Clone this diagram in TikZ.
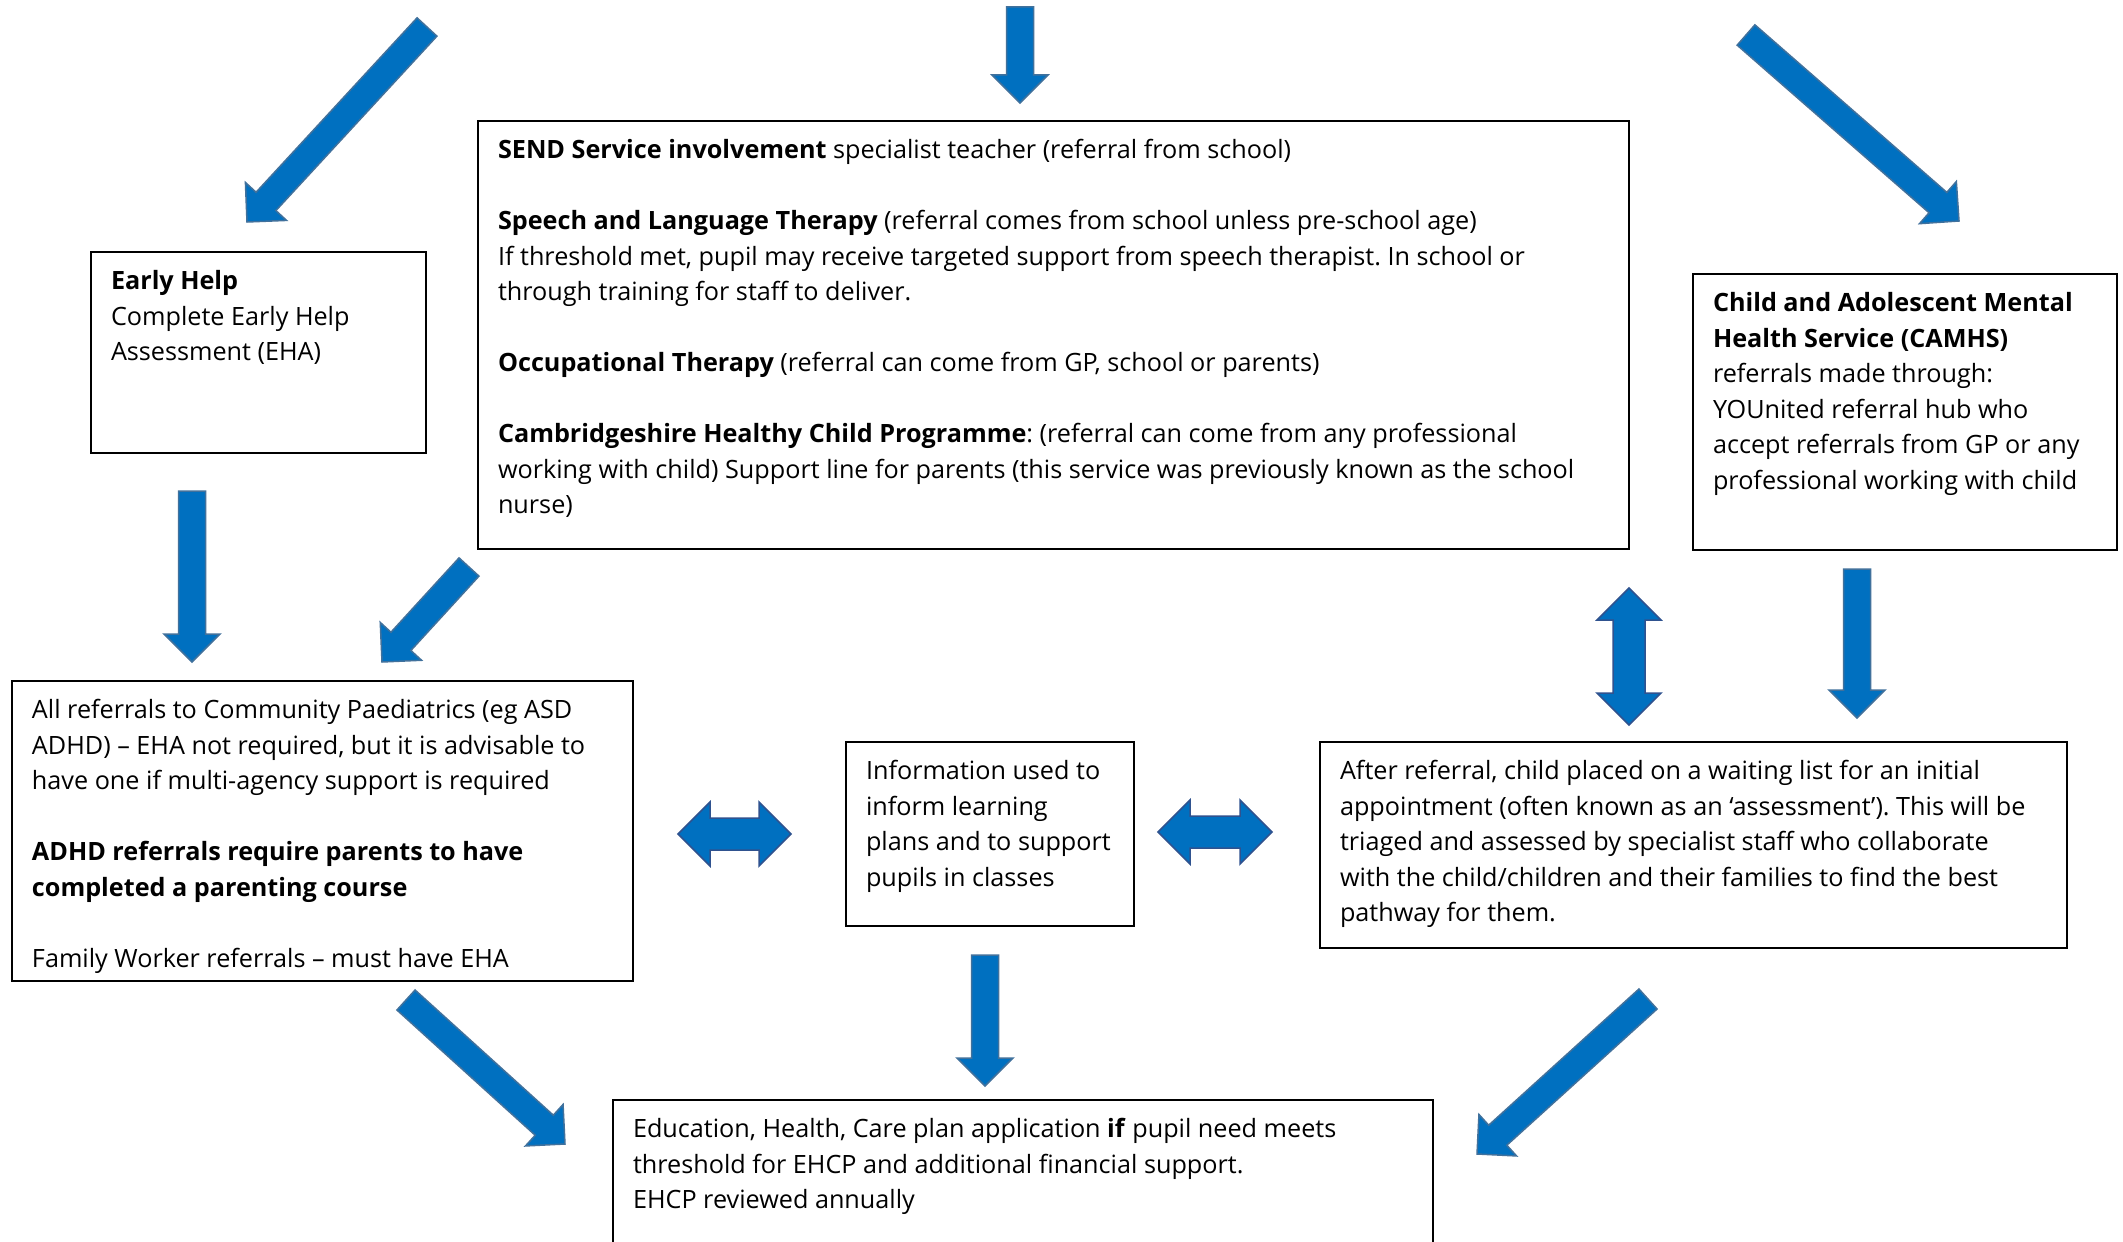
\documentclass[tikz,border=0pt]{standalone}
\usepackage{fontspec}
\setmainfont{Open Sans}
\usetikzlibrary{calc,positioning}
\definecolor{arrowblue}{HTML}{0070C0}
\definecolor{arrowedge}{HTML}{41719C}
\definecolor{dbledge}{HTML}{2F528F}
\frenchspacing

% top aligned text inside a fixed size box
\newcommand{\boxtext}[3]{\parbox[t][#2][t]{#1}{\raggedright\rightskip=-12pt plus 1fil\strut #3}}
% single block arrow from #1 to #2
\newcommand{\blockarrow}[2]{%
\coordinate (hb) at ($(#2)!14pt!(#1)$);
\draw[arrowshape] ($(#1)!6.75pt!90:(#2)$) -- ($(hb)!6.75pt!-90:(#1)$) -- ($(hb)!14pt!-90:(#1)$) -- (#2)
 -- ($(hb)!14pt!90:(#1)$) -- ($(hb)!6.75pt!90:(#1)$) -- ($(#1)!6.75pt!-90:(#2)$) -- cycle;}
% double block arrow between #1 and #2
\newcommand{\doubleblock}[2]{%
\coordinate (ha) at ($(#1)!16pt!(#2)$);
\coordinate (hb) at ($(#2)!16pt!(#1)$);
\draw[arrowshape,draw=dbledge] (#1) -- ($(ha)!16pt!90:(#2)$) -- ($(ha)!8pt!90:(#2)$) -- ($(hb)!8pt!-90:(#1)$)
 -- ($(hb)!16pt!-90:(#1)$) -- (#2) -- ($(hb)!16pt!90:(#1)$) -- ($(hb)!8pt!90:(#1)$)
 -- ($(ha)!8pt!-90:(#2)$) -- ($(ha)!16pt!-90:(#2)$) -- cycle;}

\begin{document}
\begin{tikzpicture}[
x=0.5pt,y=-0.5pt,
box/.style={
draw=black,
line width=1pt,
anchor=north west,
inner xsep=10pt,
inner ysep=6.5pt,
font=\fontsize{12.6}{17.75}\selectfont},
arrowshape/.style={fill=arrowblue, draw=arrowedge, line width=0.75pt, line join=miter}]
\useasboundingbox[fill=white] (0,0) rectangle (2123,1241);

\node[box](eh) at (90,251){\boxtext{147.5pt}{87.5pt}{\textbf{Early Help}\\Complete Early Help\\Assessment (EHA)}};
\node[box](send) at (477,120){\boxtext{555.5pt}{201pt}{\textbf{SEND Service involvement} specialist teacher (referral from school)\\[\baselineskip]
\textbf{Speech and Language Therapy} (referral comes from school unless pre-school age)\\
If threshold met, pupil may receive targeted support from speech therapist. In school or\\
through training for staff to deliver.\\[\baselineskip]
\textbf{Occupational Therapy} (referral can come from GP, school or parents)\\[\baselineskip]
\textbf{Cambridgeshire Healthy Child Programme}: (referral can come from any professional\\
working with child) Support line for parents (this service was previously known as the school\\
nurse)}};
\node[box](camhs) at (1692,273){\boxtext{192pt}{125pt}{\textbf{Child and Adolescent Mental}\\\textbf{Health Service (CAMHS)}\\
referrals made through:\\YOUnited referral hub who\\accept referrals from GP or any\\professional working with child}};
\node[box](paed) at (11,680){\boxtext{290.5pt}{137pt}{All referrals to Community Paediatrics (eg ASD\\
ADHD) – EHA not required, but it is advisable to\\have one if multi-agency support is required\\[\baselineskip]
\textbf{ADHD referrals require parents to have}\\\textbf{completed a parenting course}\\[\baselineskip]
Family Worker referrals – must have EHA}};
\node[box](info) at (845,741){\boxtext{124pt}{79pt}{Information used to\\inform learning\\plans and to support\\pupils in classes}};
\node[box](after) at (1319,741){\boxtext{353.5pt}{90pt}{After referral, child placed on a waiting list for an initial\\
appointment (often known as an ‘assessment’). This will be\\triaged and assessed by specialist staff who collaborate\\
with the child/children and their families to find the best\\pathway for them.}};
\node[box](ehcp) at (612,1099){\boxtext{390pt}{100pt}{Education, Health, Care plan application \textbf{if} pupil need meets\\
threshold for EHCP and additional financial support.\\EHCP reviewed annually}};

% arrow ends
\coordinate (t1) at (427,27);   \coordinate (h1) at (247,222);
\coordinate (t2) at (1020,7);   \coordinate (h2) at (1020,103);
\coordinate (t3) at (1746,35);  \coordinate (h3) at (1959,221);
\coordinate (t4) at (192,491);  \coordinate (h4) at (192,662);
\coordinate (t5) at (469,567);  \coordinate (h5) at (382,662);
\coordinate (t6) at (1857,569); \coordinate (h6) at (1857,718);
\coordinate (t7) at (985,955);  \coordinate (h7) at (985,1086);
\coordinate (t8) at (406,1000); \coordinate (h8) at (565,1144);
\coordinate (t9) at (1648,999); \coordinate (h9) at (1477,1154);
\coordinate (l1) at (678,834);  \coordinate (l2) at (791,834);
\coordinate (r1) at (1158,832); \coordinate (r2) at (1272,832);
\coordinate (v1) at (1629,588); \coordinate (v2) at (1629,725);

\blockarrow{t1}{h1}
\blockarrow{t2}{h2}
\blockarrow{t3}{h3}
\blockarrow{t4}{h4}
\blockarrow{t5}{h5}
\blockarrow{t6}{h6}
\blockarrow{t7}{h7}
\blockarrow{t8}{h8}
\blockarrow{t9}{h9}
\doubleblock{l1}{l2}
\doubleblock{r1}{r2}
\doubleblock{v1}{v2}
\end{tikzpicture}
\end{document}
